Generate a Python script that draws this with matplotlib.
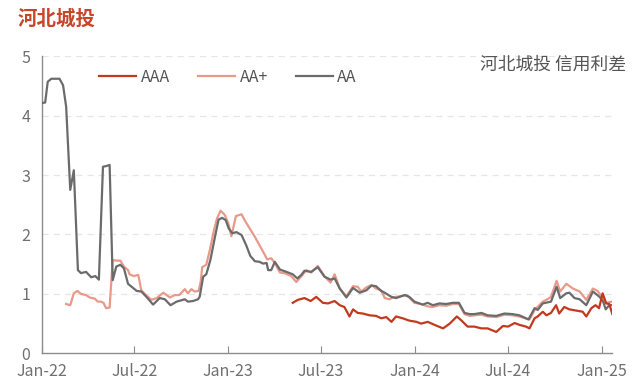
import matplotlib
matplotlib.use("Agg")
import matplotlib.pyplot as plt
import matplotlib.dates as mdates
import numpy as np
import pandas as pd

plt.rcParams['font.family'] = ['Noto Sans CJK SC', 'DejaVu Sans']

start = pd.Timestamp("2022-01-01")

# days since 2022-01-01, spread in %
aa_days = [0, 7, 12, 19, 35, 42, 48, 56, 63, 71, 77, 87, 97, 105, 112, 120, 126, 133, 139, 146,
           154, 161, 169, 186, 195, 205, 218, 231, 241, 252, 264, 280, 286, 296, 306, 309, 316,
           322, 330, 339, 346, 353, 360, 366, 373, 381, 391, 400, 408, 417, 426, 433, 440, 443,
           449, 456, 466, 479, 491, 500, 508, 514, 527, 540, 553, 565, 573, 583, 596, 609, 622,
           635, 645, 654, 664, 671, 684, 693, 710, 719, 729, 745, 755, 765, 778, 791, 804, 816,
           827, 837, 846, 860, 872, 889, 905, 921, 934, 947, 952, 964, 970, 980, 996, 1007, 1014,
           1026, 1032, 1042, 1052, 1065, 1078, 1091, 1098, 1103, 1110, 1115]
aa_vals = [4.21, 4.22, 4.57, 4.62, 4.62, 4.51, 4.15, 2.75, 3.08, 1.40, 1.35, 1.37, 1.28, 1.30,
           1.24, 3.14, 3.15, 3.17, 1.23, 1.46, 1.49, 1.43, 1.17, 1.05, 1.04, 0.95, 0.82, 0.93,
           0.91, 0.81, 0.87, 0.91, 0.87, 0.88, 0.91, 0.95, 1.29, 1.33, 1.57, 1.96, 2.25, 2.28,
           2.24, 2.10, 2.02, 2.04, 1.99, 1.82, 1.64, 1.55, 1.54, 1.51, 1.52, 1.40, 1.40, 1.54,
           1.41, 1.37, 1.33, 1.26, 1.32, 1.39, 1.37, 1.45, 1.29, 1.24, 1.26, 1.09, 0.94, 1.10,
           1.02, 1.06, 1.14, 1.13, 1.05, 1.02, 0.95, 0.93, 0.98, 0.95, 0.87, 0.82, 0.85, 0.81,
           0.84, 0.83, 0.85, 0.85, 0.68, 0.66, 0.66, 0.68, 0.64, 0.63, 0.67, 0.66, 0.64, 0.59,
           0.57, 0.76, 0.73, 0.84, 0.87, 1.12, 0.93, 1.01, 1.02, 0.93, 0.91, 0.81, 1.04, 0.95,
           0.87, 0.74, 0.81, 0.81]

aap_days = [48, 56, 63, 70, 77, 87, 94, 104, 110, 116, 121, 126, 133, 139, 146, 154, 161, 169,
            172, 180, 189, 195, 204, 215, 225, 238, 251, 260, 269, 280, 286, 293, 299, 307, 311,
            314, 322, 329, 337, 343, 350, 358, 365, 371, 380, 391, 397, 407, 417, 426, 435, 441,
            449, 456, 466, 475, 488, 498, 508, 518, 527, 540, 553, 565, 573, 583, 596, 609, 618,
            625, 635, 645, 654, 664, 671, 680, 687, 700, 714, 729, 742, 755, 765, 778, 791, 804,
            816, 827, 837, 846, 860, 872, 889, 905, 921, 934, 954, 964, 980, 989, 996, 1007,
            1014, 1026, 1039, 1052, 1065, 1078, 1087, 1096, 1100, 1115]
aap_vals = [0.83, 0.81, 1.01, 1.05, 1.00, 0.98, 0.94, 0.92, 0.87, 0.87, 0.85, 0.76, 0.77, 1.57,
            1.56, 1.56, 1.46, 1.40, 1.33, 1.30, 1.32, 1.06, 0.98, 0.90, 0.93, 1.02, 0.94, 0.98,
            0.98, 1.08, 1.01, 1.08, 1.04, 1.05, 1.20, 1.45, 1.49, 1.74, 2.07, 2.27, 2.40, 2.33,
            2.19, 1.97, 2.31, 2.34, 2.24, 2.10, 1.96, 1.82, 1.68, 1.58, 1.60, 1.52, 1.36, 1.35,
            1.30, 1.20, 1.30, 1.40, 1.36, 1.47, 1.30, 1.19, 1.33, 1.09, 0.96, 1.13, 1.12, 1.04,
            1.11, 1.15, 1.09, 1.06, 0.93, 0.91, 0.94, 0.96, 0.98, 0.85, 0.83, 0.79, 0.78, 0.81,
            0.80, 0.83, 0.83, 0.66, 0.63, 0.64, 0.65, 0.62, 0.61, 0.65, 0.64, 0.62, 0.57, 0.73,
            0.87, 0.91, 0.95, 1.22, 1.04, 1.17, 1.09, 1.04, 0.90, 1.09, 1.05, 0.95, 0.84, 0.87]

aaa_days = [491, 501, 514, 526, 537, 550, 560, 573, 583, 592, 602, 609, 618, 628, 641, 654, 664,
            674, 684, 693, 706, 719, 733, 742, 755, 768, 785, 798, 812, 820, 833, 846, 860, 872,
            889, 902, 912, 925, 934, 947, 954, 964, 970, 980, 987, 996, 1006, 1012, 1022, 1032,
            1045, 1058, 1065, 1075, 1083, 1090, 1097, 1104, 1110, 1116]
aaa_vals = [0.85, 0.90, 0.93, 0.88, 0.95, 0.85, 0.84, 0.88, 0.81, 0.78, 0.62, 0.74, 0.68, 0.67,
            0.64, 0.63, 0.59, 0.61, 0.53, 0.62, 0.59, 0.55, 0.53, 0.50, 0.53, 0.48, 0.42, 0.50,
            0.62, 0.56, 0.45, 0.45, 0.42, 0.42, 0.36, 0.46, 0.45, 0.51, 0.48, 0.45, 0.42, 0.59,
            0.62, 0.70, 0.64, 0.68, 0.81, 0.67, 0.78, 0.74, 0.72, 0.70, 0.62, 0.76, 0.81, 0.76,
            1.01, 0.84, 0.83, 0.66]

yticks = [0, 1, 2, 3, 4, 5]
xtick_dates = ["2022-01-01", "2022-07-01", "2023-01-01", "2023-07-01",
               "2024-01-01", "2024-07-01", "2025-01-01"]


def to_dates(days):
    return start + pd.to_timedelta(days, unit="D")


fig = plt.figure(figsize=(6.4, 3.9), dpi=100)
ax = fig.add_axes([0.065, 0.094, 0.891, 0.762])

ax.plot(to_dates(aaa_days), aaa_vals, color="#C23A1E", lw=1.6, label="AAA", zorder=4)
ax.plot(to_dates(aap_days), aap_vals, color="#E8998A", lw=1.6, label="AA+", zorder=2)
ax.plot(to_dates(aa_days), aa_vals, color="#6B6B6B", lw=1.6, label="AA", zorder=3)

ax.set_ylim(0, 5)
ax.set_xlim(start, start + pd.Timedelta(days=1115))
ax.set_yticks(yticks)
ax.set_xticks(pd.to_datetime(xtick_dates))
ax.xaxis.set_major_formatter(mdates.DateFormatter("%b-%y"))

for v in yticks[1:]:
    ax.axhline(v, color="#E6E6E6", lw=0.9, ls=(0, (5, 4)), zorder=0)

for s in ["top", "right"]:
    ax.spines[s].set_visible(False)
for s in ["left", "bottom"]:
    ax.spines[s].set_color("#8C8C8C")
    ax.spines[s].set_linewidth(1.0)

ax.tick_params(axis="x", direction="in", length=5, color="#8C8C8C", labelsize=11.5,
               labelcolor="#707070", pad=7)
ax.tick_params(axis="y", length=0, labelsize=11.5, labelcolor="#707070", pad=8)

ax.legend(loc="upper left", bbox_to_anchor=(0.076, 1.005), ncol=3, frameon=False,
          fontsize=11.5, handlelength=2.3, columnspacing=1.75, handletextpad=0.3,
          labelcolor="#555555")

fig.text(0.027, 0.951, "河北城投", color="#C8442A", fontsize=14, fontweight="bold",
         va="center", ha="left")
fig.text(0.978, 0.835, "河北城投 信用利差", color="#555555", fontsize=12.8,
         va="center", ha="right")

plt.savefig("out.png", dpi=100)
